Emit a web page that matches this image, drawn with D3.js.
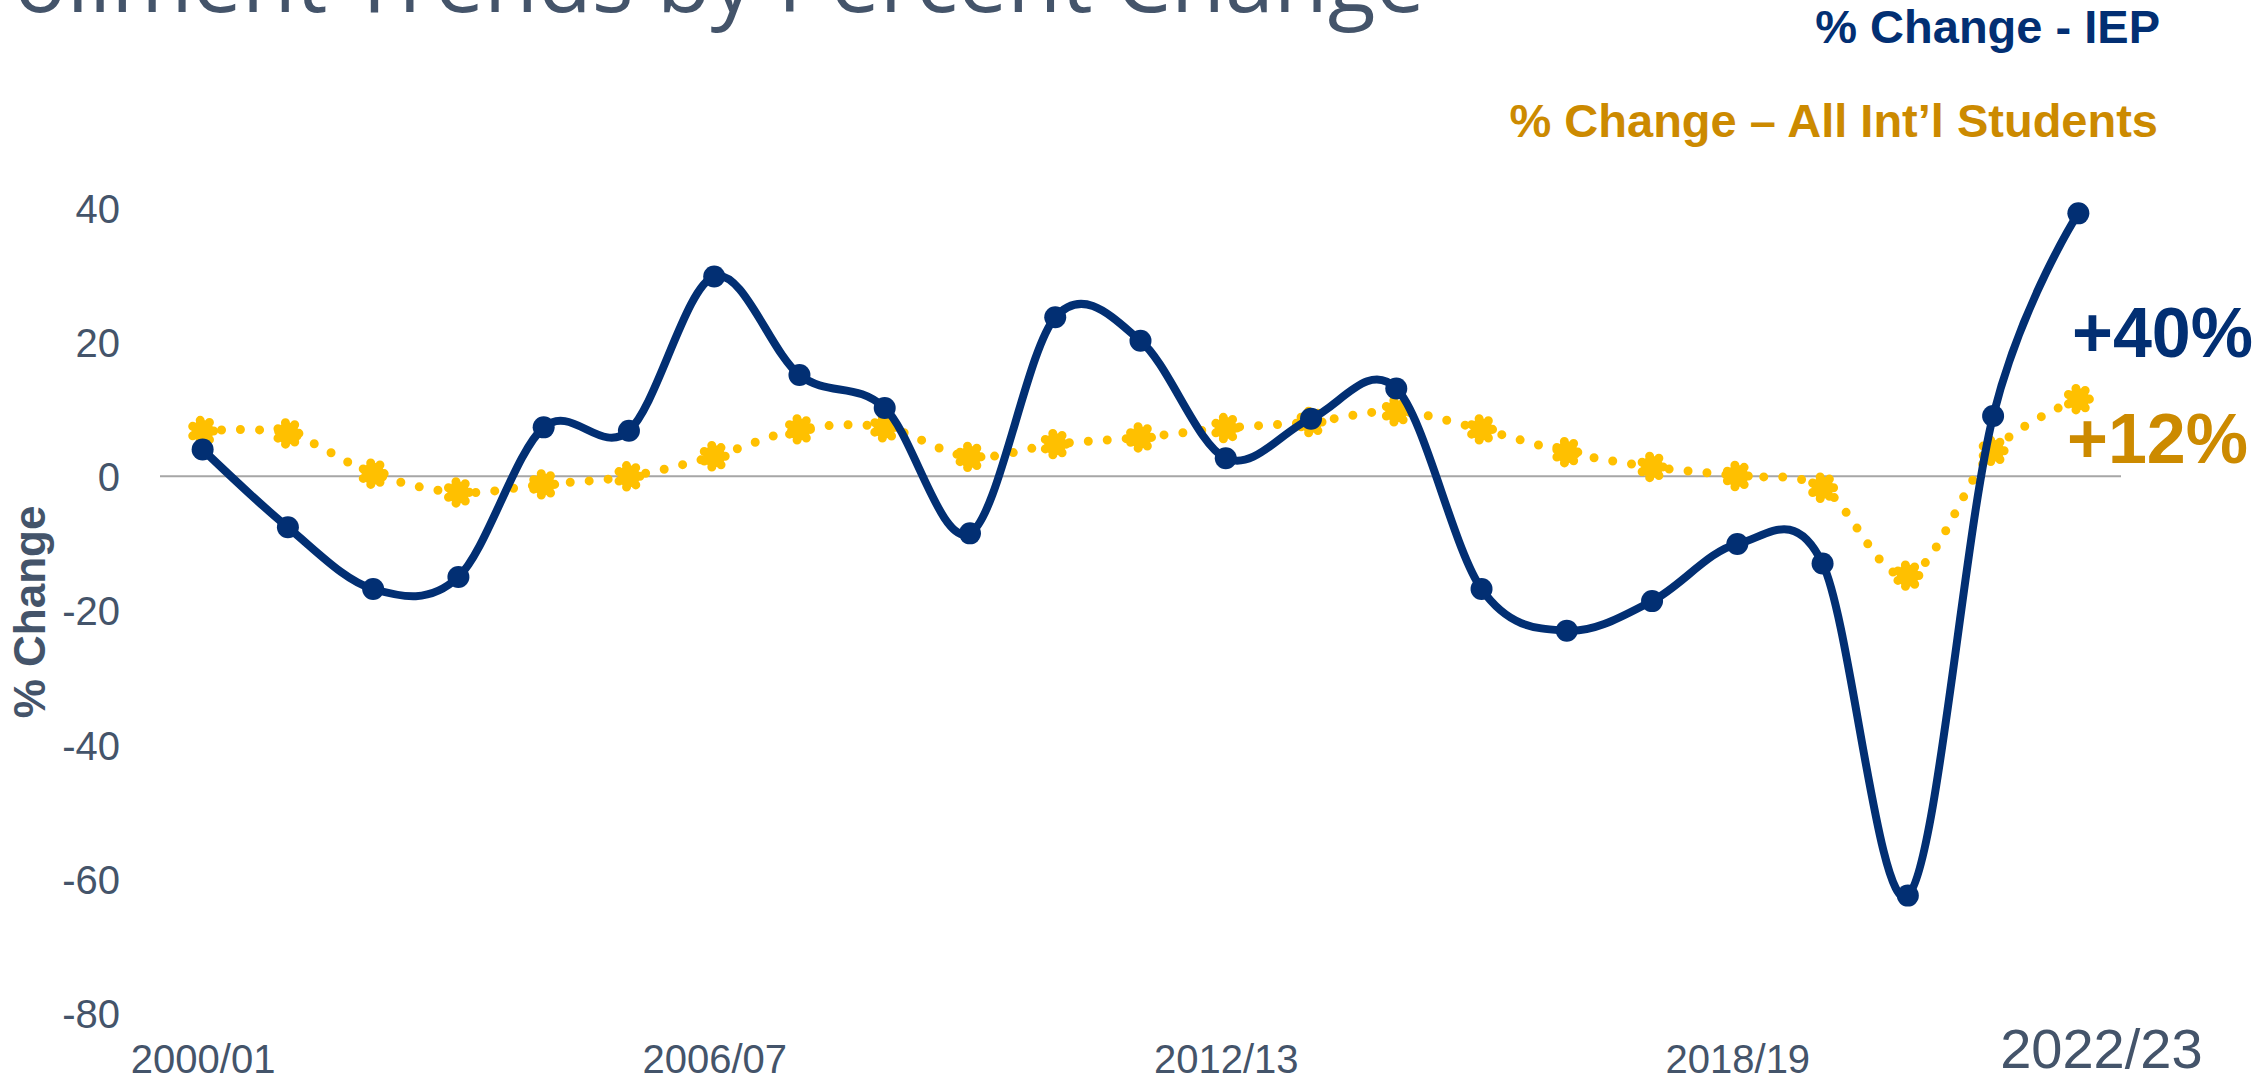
<!DOCTYPE html>
<html>
<head>
<meta charset="utf-8">
<script src="https://cdn.jsdelivr.net/npm/d3@7"></script>
<style>
  html, body { margin: 0; padding: 0; background: #ffffff; }
  svg { display: block; }
</style>
</head>
<body>
<svg id="chart" width="2253" height="1081"></svg>
<script>
const categories = ["2000/01","2001/02","2002/03","2003/04","2004/05","2005/06","2006/07","2007/08","2008/09","2009/10","2010/11","2011/12","2012/13","2013/14","2014/15","2015/16","2016/17","2017/18","2018/19","2019/20","2020/21","2021/22","2022/23"];
const iepValues = [4.0,-7.6,-16.8,-15.0,7.3,6.8,29.8,15.1,10.2,-8.5,23.7,20.2,2.7,8.6,13.1,-16.8,-23.0,-18.6,-10.1,-13.0,-62.5,9.0,39.2];
const allIntlValues = [6.75,6.4,0.4,-2.4,-1.2,0.0,3.0,7.0,7.3,2.9,4.8,5.8,7.2,8.1,9.7,7.0,3.6,1.4,0.05,-1.7,-14.8,3.8,11.5];
const yTickValues = [40,20,0,-20,-40,-60,-80];
const xTickLabels = ["2000/01","2006/07","2012/13","2018/19"];
const lastLabel = "2022/23";
const titleText = "Enrollment Trends by Percent Change";
const legendIEP = "% Change - IEP";
const legendAll = "% Change \u2013 All Int\u2019l Students";
const calloutIEP = "+40%";
const calloutAll = "+12%";
const yAxisTitle = "% Change";

const NAVY = "#022F73";
const YELLOW = "#FFC000";
const GOLD = "#CC8A00";
const SLATE = "#44546A";

const svg = d3.select("#chart");
const plotLeft = 160, plotRight = 2121;

const x = d3.scalePoint().domain(categories).range([plotLeft, plotRight]).padding(0.5);
const y = d3.scaleLinear().domain([-80, 40]).range([1013, 208]);

// Title (partially cut off at top/left, as in the reference)
svg.append("text")
  .attr("x", 1425).attr("y", 12)
  .attr("text-anchor", "end")
  .style("font-family", "'Open Sans', 'Liberation Sans', sans-serif")
  .style("font-size", "88px")
  .style("fill", SLATE)
  .text(titleText);

// zero line
svg.append("line")
  .attr("x1", plotLeft).attr("x2", plotRight)
  .attr("y1", y(0)).attr("y2", y(0))
  .attr("stroke", "#A6A6A6").attr("stroke-width", 2);

// Y axis
const yAxis = svg.append("g")
  .attr("transform", "translate(120,0)")
  .call(d3.axisLeft(y).tickValues(yTickValues).tickSize(0).tickPadding(0).tickFormat(d => String(d)));
yAxis.select(".domain").remove();
yAxis.selectAll("text")
  .attr("x", 0)
  .attr("dy", "0.36em")
  .style("font-family", "'Liberation Sans', Arial, sans-serif")
  .style("font-size", "40px")
  .style("fill", SLATE);

// Y axis title
svg.append("text")
  .attr("transform", "translate(45,612) rotate(-90)")
  .attr("text-anchor", "middle")
  .style("font-family", "'Liberation Sans', Arial, sans-serif")
  .style("font-size", "44px")
  .style("font-weight", "bold")
  .style("fill", SLATE)
  .text(yAxisTitle);

// X axis labels
const xAxis = svg.append("g")
  .attr("transform", "translate(0,1073)")
  .call(d3.axisBottom(x).tickValues(xTickLabels).tickSize(0).tickPadding(0));
xAxis.select(".domain").remove();
xAxis.selectAll("text")
  .attr("y", 0).attr("dy", 0)
  .style("font-family", "'Liberation Sans', Arial, sans-serif")
  .style("font-size", "40px")
  .style("fill", SLATE);

svg.append("text")
  .attr("x", x(lastLabel) + 23).attr("y", 1068)
  .attr("text-anchor", "middle")
  .style("font-family", "'Liberation Sans', Arial, sans-serif")
  .style("font-size", "56px")
  .style("fill", SLATE)
  .text(lastLabel);

const curve = d3.curveCatmullRom.alpha(0);

// All Int'l series (dotted yellow)
const lineAll = d3.line().x((d, i) => x(categories[i])).y(d => y(d)).curve(curve);
svg.append("path")
  .datum(allIntlValues)
  .attr("d", lineAll)
  .attr("fill", "none")
  .attr("stroke", YELLOW)
  .attr("stroke-width", 9)
  .attr("stroke-linecap", "round")
  .attr("stroke-dasharray", "0 19");

svg.append("g").selectAll("circle")
  .data(allIntlValues)
  .join("circle")
  .attr("cx", (d, i) => x(categories[i]))
  .attr("cy", d => y(d))
  .attr("r", 11)
  .attr("fill", YELLOW)
  .attr("stroke", YELLOW)
  .attr("stroke-width", 9)
  .attr("stroke-linecap", "round")
  .attr("stroke-dasharray", "0 9.8");

// IEP series (solid navy)
const lineIEP = d3.line().x((d, i) => x(categories[i])).y(d => y(d)).curve(curve);
svg.append("path")
  .datum(iepValues)
  .attr("d", lineIEP)
  .attr("fill", "none")
  .attr("stroke", NAVY)
  .attr("stroke-width", 8)
  .attr("stroke-linejoin", "round");

svg.append("g").selectAll("circle")
  .data(iepValues)
  .join("circle")
  .attr("cx", (d, i) => x(categories[i]))
  .attr("cy", d => y(d))
  .attr("r", 11)
  .attr("fill", NAVY);

// Legend texts
svg.append("text")
  .attr("x", 2160).attr("y", 43)
  .attr("text-anchor", "end")
  .style("font-family", "'Liberation Sans', Arial, sans-serif")
  .style("font-size", "47px")
  .style("font-weight", "bold")
  .style("fill", NAVY)
  .text(legendIEP);

svg.append("text")
  .attr("x", 2158).attr("y", 137)
  .attr("text-anchor", "end")
  .style("font-family", "'Liberation Sans', Arial, sans-serif")
  .style("font-size", "47px")
  .style("font-weight", "bold")
  .style("fill", GOLD)
  .text(legendAll);

// Callouts
svg.append("text")
  .attr("x", 2072).attr("y", 357)
  .style("font-family", "'Liberation Sans', Arial, sans-serif")
  .style("font-size", "70px")
  .style("font-weight", "bold")
  .style("fill", NAVY)
  .text(calloutIEP);

svg.append("text")
  .attr("x", 2067).attr("y", 463)
  .style("font-family", "'Liberation Sans', Arial, sans-serif")
  .style("font-size", "70px")
  .style("font-weight", "bold")
  .style("fill", GOLD)
  .text(calloutAll);
</script>
</body>
</html>
